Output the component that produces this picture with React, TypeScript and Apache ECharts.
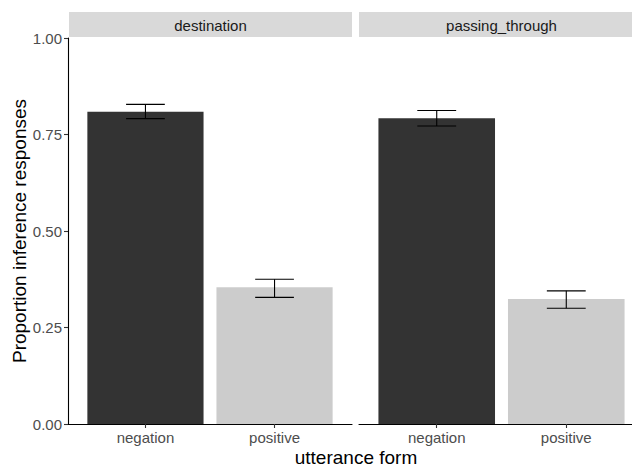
import React, { useEffect, useRef } from "react";
import * as echarts from "echarts";

const facets = ["destination", "passing_through"];
const categories = ["negation", "positive"];
const destinationMeans = [0.809, 0.354];
const destinationLower = [0.791, 0.328];
const destinationUpper = [0.828, 0.375];
const passingMeans = [0.792, 0.324];
const passingLower = [0.772, 0.3];
const passingUpper = [0.812, 0.345];
const yTicks = [0, 0.25, 0.5, 0.75, 1];
const barColors = ["#333333", "#CCCCCC"];

const FONT = "'Liberation Sans', Arial, sans-serif";

function makeData(means: number[], lower: number[], upper: number[]) {
  return categories.map((_, i) => [i + 1, means[i], lower[i], upper[i], i]);
}

const renderItem = (params: any, api: any) => {
  const x = api.value(0);
  const v = api.value(1);
  const lo = api.value(2);
  const hi = api.value(3);
  const idx = api.value(4);
  const tl = api.coord([x - 0.45, v]);
  const br = api.coord([x + 0.45, 0]);
  const pLo = api.coord([x, lo]);
  const pHi = api.coord([x, hi]);
  const cL = api.coord([x - 0.15, lo]);
  const cR = api.coord([x + 0.15, lo]);
  const lineStyle = { stroke: "#000000", lineWidth: 1.1 };
  return {
    type: "group",
    children: [
      {
        type: "rect",
        shape: { x: tl[0], y: tl[1], width: br[0] - tl[0], height: br[1] - tl[1] },
        style: { fill: barColors[idx] },
      },
      { type: "line", shape: { x1: pLo[0], y1: pLo[1], x2: pHi[0], y2: pHi[1] }, style: lineStyle },
      { type: "line", shape: { x1: cL[0], y1: pLo[1], x2: cR[0], y2: pLo[1] }, style: lineStyle },
      { type: "line", shape: { x1: cL[0], y1: pHi[1], x2: cR[0], y2: pHi[1] }, style: lineStyle },
    ],
  };
};

export default function App() {
  const ref = useRef<HTMLDivElement>(null);
  useEffect(() => {
    if (!ref.current) return;
    const chart = echarts.init(ref.current, null, { renderer: "svg" });
    const xAxisBase = (gridIndex: number) => ({
      type: "value",
      gridIndex,
      min: 0.4,
      max: 2.6,
      splitLine: { show: false },
      axisLine: { show: true, lineStyle: { color: "#000000", width: 1.1 } },
      axisTick: { show: true, customValues: [1, 2], length: 4, lineStyle: { color: "#333333", width: 1.1 } },
      axisLabel: {
        show: true,
        customValues: [1, 2],
        formatter: (v: number) => categories[Math.round(v) - 1] ?? "",
        color: "#4D4D4D",
        fontSize: 15,
        fontFamily: FONT,
        margin: 6,
      },
    });
    const option: any = {
      animation: false,
      grid: [
        { left: 68, top: 38, width: 284, height: 386 },
        { left: 359, top: 38, width: 285, height: 386 },
      ],
      xAxis: [xAxisBase(0), xAxisBase(1)],
      yAxis: [
        {
          type: "value",
          gridIndex: 0,
          min: 0,
          max: 1,
          interval: 0.25,
          splitLine: { show: false },
          axisLine: { show: true, lineStyle: { color: "#000000", width: 1.1 } },
          axisTick: { show: true, length: 4, lineStyle: { color: "#333333", width: 1.1 } },
          axisLabel: {
            color: "#4D4D4D",
            fontSize: 15,
            fontFamily: FONT,
            margin: 6,
            formatter: (v: number) => (yTicks.includes(v) ? v.toFixed(2) : ""),
          },
        },
        {
          type: "value",
          gridIndex: 1,
          min: 0,
          max: 1,
          interval: 0.25,
          splitLine: { show: false },
          axisLine: { show: false },
          axisTick: { show: false },
          axisLabel: { show: false },
        },
      ],
      series: [
        {
          type: "custom",
          name: facets[0],
          xAxisIndex: 0,
          yAxisIndex: 0,
          renderItem,
          encode: { x: 0, y: 1 },
          data: makeData(destinationMeans, destinationLower, destinationUpper),
        },
        {
          type: "custom",
          name: facets[1],
          xAxisIndex: 1,
          yAxisIndex: 1,
          renderItem,
          encode: { x: 0, y: 1 },
          data: makeData(passingMeans, passingLower, passingUpper),
        },
      ],
      graphic: [
        { type: "rect", shape: { x: 69, y: 12, width: 283, height: 25 }, style: { fill: "#D9D9D9" } },
        { type: "rect", shape: { x: 359, y: 12, width: 285, height: 25 }, style: { fill: "#D9D9D9" } },
        {
          type: "text",
          x: 210.5,
          y: 25,
          style: { text: facets[0], fill: "#1A1A1A", font: `15px ${FONT}`, textAlign: "center", textVerticalAlign: "middle" },
        },
        {
          type: "text",
          x: 501.5,
          y: 25,
          style: { text: facets[1], fill: "#1A1A1A", font: `15px ${FONT}`, textAlign: "center", textVerticalAlign: "middle" },
        },
        {
          type: "text",
          x: 356,
          y: 457,
          style: { text: "utterance form", fill: "#000000", font: `19px ${FONT}`, textAlign: "center", textVerticalAlign: "middle" },
        },
        {
          type: "text",
          x: 19,
          y: 231,
          rotation: Math.PI / 2,
          style: {
            text: "Proportion inference responses",
            fill: "#000000",
            font: `19px ${FONT}`,
            textAlign: "center",
            textVerticalAlign: "middle",
          },
        },
      ],
    };
    chart.setOption(option);
    return () => chart.dispose();
  }, []);
  return (
    <div
      style={{ position: "fixed", left: 0, top: 0, width: 632, height: 466, overflow: "hidden", background: "#FFFFFF" }}
    >
      <div ref={ref} style={{ width: 660, height: 466 }} />
    </div>
  );
}
